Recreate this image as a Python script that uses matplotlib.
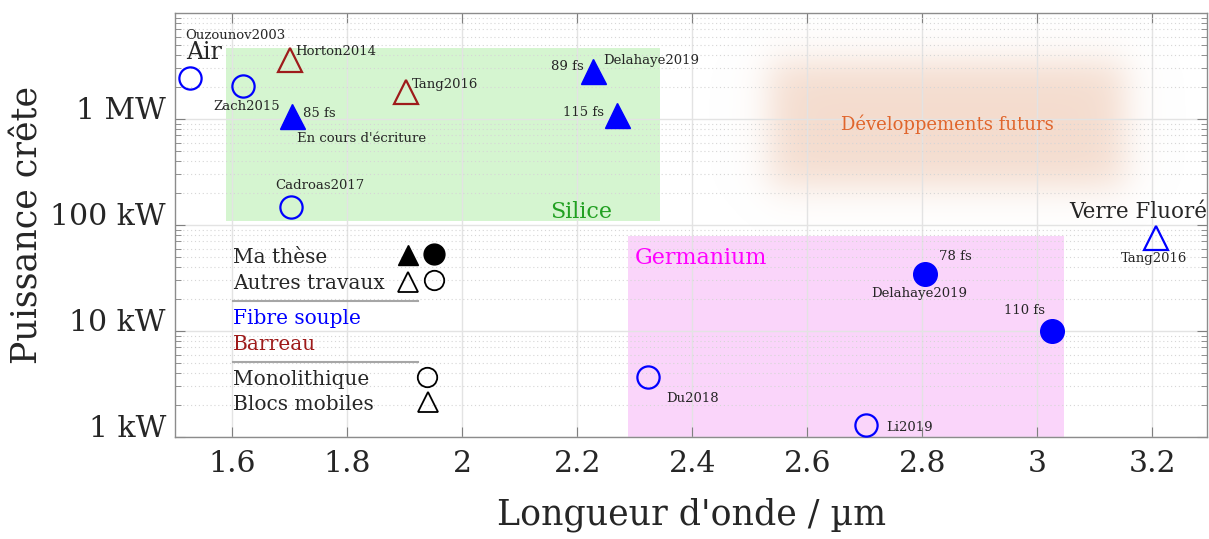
import numpy as np
import matplotlib
matplotlib.use('Agg')
import matplotlib.pyplot as plt
from matplotlib.ticker import FixedLocator, LogLocator, NullFormatter

plt.rcParams['font.family'] = 'DejaVu Serif'

BLUE = '#0000ff'
DRED = '#9e1b1b'
TXT = '#262626'

# --- data : wavelength (um) / peak power (W) ---
# this thesis, fibre, monolithic (filled circles)
these_circ_x = [2.804, 3.025]
these_circ_p = [3.45e4, 1.0e4]
these_circ_lbl = ['78 fs', '110 fs']
# this thesis, fibre, free-space (filled triangles)
these_tri_x = [1.704, 2.227, 2.269]
these_tri_p = [1.07e6, 2.84e6, 1.09e6]
these_tri_lbl = ['85 fs', '89 fs', '115 fs']
# other works, fibre, monolithic
fib_circ_x = [1.526, 1.619, 1.702, 2.323, 2.702]
fib_circ_p = [2.44e6, 2.05e6, 1.48e5, 3.68e3, 1.3e3]
fib_circ_ref = ['Ouzounov2003', 'Zach2015', 'Cadroas2017', 'Du2018', 'Li2019']
# other works, fibre, free-space
fib_tri_x = [3.206]
fib_tri_p = [7.5e4]
fib_tri_ref = ['Tang2016']
# other works, bulk crystal, free-space
bulk_tri_x = [1.70, 1.902]
bulk_tri_p = [3.6e6, 1.8e6]
bulk_tri_ref = ['Horton2014', 'Tang2016']

# material regions
silica_x = (1.589, 2.343)
silica_p = (1.09e5, 4.7e6)
ge_x = (2.288, 3.046)
ge_p = (1e3, 7.9e4)
future_x = (2.535, 3.152)
future_p = (2.3e5, 3.5e6)

xticks = [1.6, 1.8, 2.0, 2.2, 2.4, 2.6, 2.8, 3.0, 3.2]
xticklabels = ['1.6', '1.8', '2', '2.2', '2.4', '2.6', '2.8', '3', '3.2']
yticks = [1e3, 1e4, 1e5, 1e6]
yticklabels = ['1 kW', '10 kW', '100 kW', '1 MW']

XMIN, XMAX = 1.5, 3.295
PMIN, PMAX = 1e3, 1e7

# label offsets in points (dx, dy, ha)
off_these_circ = [(10, 10, 'left'), (-19.4, 12.2, 'center')]
off_these_tri = [(7.9, -0.7, 'left'), (-6.5, 0.7, 'right'), (-9.4, -0.7, 'right')]
off_fib_circ = [(-3.6, 28.1, 'left'), (2, -17.3, 'center'), (20.9, 13, 'center'),
                (13, -18, 'left'), (14.4, -4.3, 'left')]
off_fib_tri = [(-1.4, -17.3, 'center')]
off_bulk_tri = [(3.6, 3.6, 'left'), (4.3, 2.9, 'left')]

fig = plt.figure(figsize=(12.09, 5.39), dpi=100)
ax = fig.add_axes([175 / 1209, 1 - 437 / 539, 1032 / 1209, 424 / 539])
ax.set_yscale('log')
ax.set_xlim(XMIN, XMAX)
ax.set_ylim(PMIN, PMAX)
ax.set_autoscale_on(False)

# shaded regions
ax.fill_between(silica_x, silica_p[0], silica_p[1], color='#d5f5d0', lw=0, zorder=0.3)
ax.fill_between(ge_x, ge_p[0], ge_p[1], color='#fad5fa', lw=0, zorder=0.3)

# soft blob for future work (built in axes fraction)
def to_frac(x, p):
    return ((x - XMIN) / (XMAX - XMIN),
            (np.log10(p) - np.log10(PMIN)) / (np.log10(PMAX) - np.log10(PMIN)))

u0, v0 = to_frac(future_x[0], future_p[0])
u1, v1 = to_frac(future_x[1], future_p[1])
nx, ny = 1032, 424
u = (np.arange(nx) + 0.5) / nx
v = (np.arange(ny) + 0.5) / ny
sx, sy = 11 / nx, 11 / ny
sig = lambda d: 1 / (1 + np.exp(-d))
ax_a = sig((u - u0) / sx) * sig((u1 - u) / sx)
ay_a = sig((v - v0) / sy) * sig((v1 - v) / sy)
alpha = np.outer(ay_a, ax_a)
rgba = np.zeros((ny, nx, 4))
rgba[..., 0] = 244 / 255
rgba[..., 1] = 220 / 255
rgba[..., 2] = 206 / 255
rgba[..., 3] = alpha
ax.imshow(rgba, extent=(0, 1, 0, 1), transform=ax.transAxes, origin='lower',
          aspect='auto', zorder=0.2, interpolation='bilinear')
ax.set_xlim(XMIN, XMAX)
ax.set_ylim(PMIN, PMAX)

# grid
ax.set_axisbelow(True)
ax.grid(True, which='major', color='#e3e3e3', lw=1.0, ls='-')
ax.grid(True, which='minor', axis='y', color='#d6d6d6', lw=0.8, ls=(0, (1, 2.5)))

# markers
ms_c, ms_t, mew = 16, 18, 1.6
ax.plot(these_circ_x, these_circ_p, 'o', color=BLUE, ms=ms_c + 1, zorder=3)
ax.plot(these_tri_x, these_tri_p, '^', color=BLUE, ms=ms_t, zorder=3)
ax.plot(fib_circ_x, fib_circ_p, 'o', mfc='none', mec=BLUE, mew=mew, ms=ms_c, zorder=3)
ax.plot(fib_tri_x, fib_tri_p, '^', mfc='none', mec=BLUE, mew=mew, ms=ms_t - 1, zorder=3)
ax.plot(bulk_tri_x, bulk_tri_p, '^', mfc='none', mec=DRED, mew=mew, ms=ms_t - 1, zorder=3)

def label(x, p, s, off, size=9.5):
    dx, dy, ha = off
    ax.annotate(s, (x, p), xytext=(dx, dy), textcoords='offset points',
                ha=ha, va='baseline', fontsize=size, color=TXT, zorder=4)

for xs, ps, ls, offs in [(these_circ_x, these_circ_p, these_circ_lbl, off_these_circ),
                         (these_tri_x, these_tri_p, these_tri_lbl, off_these_tri),
                         (fib_circ_x, fib_circ_p, fib_circ_ref, off_fib_circ),
                         (fib_tri_x, fib_tri_p, fib_tri_ref, off_fib_tri),
                         (bulk_tri_x, bulk_tri_p, bulk_tri_ref, off_bulk_tri)]:
    for x, p, s, o in zip(xs, ps, ls, offs):
        label(x, p, s, o)

label(these_tri_x[0], these_tri_p[0], "En cours d'écriture", (3.6, -18.7, 'left'))
label(these_tri_x[1], these_tri_p[1], 'Delahaye2019', (7.2, 5, 'left'))
label(these_circ_x[0], these_circ_p[0], 'Delahaye2019', (-3.6, -16.6, 'center'))
label(fib_circ_x[0], fib_circ_p[0], 'Air', (-2.9, 13.7, 'left'), size=17)
label(fib_tri_x[0], fib_tri_p[0], 'Verre Fluoré', (-12.5, 14.4, 'center'), size=15.5)

# region names
ax.text(2.26, 1.16e5, 'Silice', color='#22a022', fontsize=16, ha='right', va='baseline', zorder=4)
ax.text(2.30, 4.3e4, 'Germanium', color='#ff00ff', fontsize=16, ha='left', va='baseline', zorder=4)
ax.text(2.843, 7.9e5, 'Développements futurs', color='#e0652c', fontsize=13,
        ha='center', va='baseline', zorder=4)

# key block
tr = ax.transAxes
kx = 0.0562
key_rows = [('Ma thèse', TXT, 0.410), ('Autres travaux', TXT, 0.349),
            ('Fibre souple', BLUE, 0.2665), ('Barreau', DRED, 0.205),
            ('Monolithique', TXT, 0.1226), ('Blocs mobiles', TXT, 0.0637)]
for s, c, y in key_rows:
    ax.text(kx, y, s, color=c, fontsize=14.5, transform=tr, va='baseline', ha='left', zorder=4)
for y in (0.3208, 0.1769):
    ax.plot([kx, 0.2355], [y, y], color='#a6a6a6', lw=1.5, transform=tr, zorder=4)
ax.plot(0.2258, 0.4292, '^', color='k', ms=14, transform=tr, zorder=4)
ax.plot(0.251, 0.4316, 'o', color='k', ms=15, transform=tr, zorder=4)
ax.plot(0.2258, 0.3656, '^', mfc='none', mec='k', mew=1.3, ms=14, transform=tr, zorder=4)
ax.plot(0.251, 0.370, 'o', mfc='none', mec='k', mew=1.3, ms=14, transform=tr, zorder=4)
ax.plot(0.2442, 0.1415, 'o', mfc='none', mec='k', mew=1.3, ms=14, transform=tr, zorder=4)
ax.plot(0.2452, 0.0825, '^', mfc='none', mec='k', mew=1.3, ms=14, transform=tr, zorder=4)

# axes
ax.xaxis.set_major_locator(FixedLocator(xticks))
ax.set_xticklabels(xticklabels)
ax.yaxis.set_major_locator(FixedLocator(yticks))
ax.yaxis.set_minor_locator(LogLocator(base=10, subs=np.arange(2, 10)))
ax.yaxis.set_minor_formatter(NullFormatter())
ax.set_yticklabels(yticklabels)
for lab in ax.get_yticklabels():
    lab.set_va('baseline')
ax.tick_params(which='both', direction='in', colors='#808080', labelcolor=TXT,
               top=True, right=True)
ax.tick_params(axis='both', which='major', length=7, labelsize=21.5)
ax.tick_params(axis='y', which='major', pad=6.5)
ax.tick_params(axis='x', which='major', pad=9)
ax.tick_params(axis='y', which='minor', length=4)
for sp in ax.spines.values():
    sp.set_color('#8c8c8c')
    sp.set_linewidth(1.0)

ax.set_xlabel("Longueur d'onde / µm", fontsize=25, color=TXT)
ax.xaxis.set_label_coords(0.501, -0.184)
ax.xaxis.label.set_va('center')
ax.set_ylabel('Puissance crête', fontsize=25, color=TXT)
ax.yaxis.set_label_coords(-0.143, 0.5)
ax.yaxis.label.set_va('center')

fig.savefig('out.png', dpi=100)
